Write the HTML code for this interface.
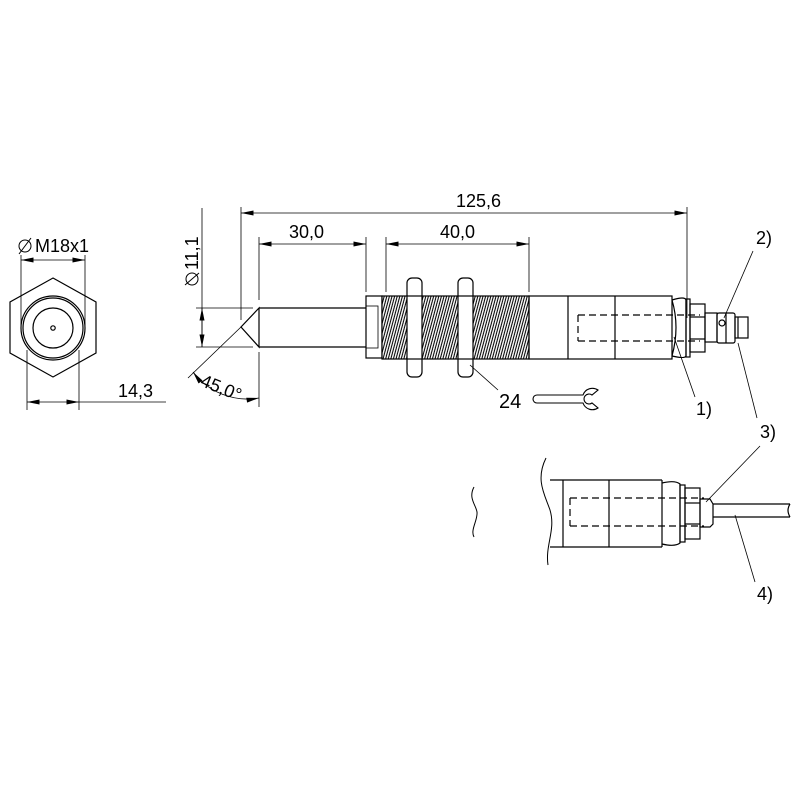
<!DOCTYPE html>
<html><head><style>html,body{margin:0;padding:0;background:#fff}svg{display:block}text{font-family:"Liberation Sans",sans-serif;fill:#000}</style></head>
<body>
<svg width="800" height="800" viewBox="0 0 800 800" xmlns="http://www.w3.org/2000/svg">
<defs>
<pattern id="th" width="2.6" height="6" patternUnits="userSpaceOnUse" patternTransform="skewX(-15)">
<rect width="2.6" height="6" fill="#fff"/><line x1="0.8" y1="0" x2="0.8" y2="6" stroke="#000" stroke-width="1.1"/>
</pattern>
<marker id="a" viewBox="0 0 10 4" refX="10" refY="2" markerWidth="14" markerHeight="5" markerUnits="userSpaceOnUse" orient="auto-start-reverse"><path d="M0,0L10,2L0,4z" fill="#000"/></marker>
</defs>
<g fill="none" stroke="#000" stroke-width="1.2">
<polygon points="53,278 96,302 96,353 53,377 10,353 10,302"/>
<circle cx="53" cy="328" r="32"/><circle cx="53" cy="328" r="30"/><circle cx="53" cy="328" r="20"/><circle cx="53" cy="328" r="2.2"/>
<line x1="21" y1="255" x2="21" y2="330" stroke-width="0.8"/><line x1="85" y1="255" x2="85" y2="330" stroke-width="0.8"/>
<line x1="21" y1="260" x2="85" y2="260" stroke-width="0.8" marker-start="url(#a)" marker-end="url(#a)"/>
<line x1="27" y1="350" x2="27" y2="410" stroke-width="0.8"/><line x1="79" y1="350" x2="79" y2="410" stroke-width="0.8"/>
<line x1="27" y1="402" x2="79" y2="402" stroke-width="0.8" marker-start="url(#a)" marker-end="url(#a)"/>
<line x1="79" y1="402" x2="166" y2="402" stroke-width="0.8"/>
<line x1="241" y1="207" x2="241" y2="320" stroke-width="0.8"/>
<line x1="687" y1="207" x2="687" y2="318" stroke-width="0.8"/>
<line x1="241" y1="213" x2="687" y2="213" stroke-width="0.8" marker-start="url(#a)" marker-end="url(#a)"/>
<line x1="259" y1="237" x2="259" y2="300" stroke-width="0.8"/><line x1="259" y1="352" x2="259" y2="407" stroke-width="0.8"/>
<line x1="366" y1="237" x2="366" y2="292" stroke-width="0.8"/>
<line x1="259" y1="244" x2="366" y2="244" stroke-width="0.8" marker-start="url(#a)" marker-end="url(#a)"/>
<line x1="386" y1="237" x2="386" y2="292" stroke-width="0.8"/><line x1="529" y1="237" x2="529" y2="292" stroke-width="0.8"/>
<line x1="386" y1="244" x2="529" y2="244" stroke-width="0.8" marker-start="url(#a)" marker-end="url(#a)"/>
<line x1="202" y1="208" x2="202" y2="347" stroke-width="0.8"/>
<line x1="196" y1="308" x2="253" y2="308" stroke-width="0.8"/><line x1="196" y1="347" x2="253" y2="347" stroke-width="0.8"/>
<line x1="202" y1="308" x2="202" y2="347" stroke-width="0.8" marker-start="url(#a)" marker-end="url(#a)"/>
<line x1="241" y1="327" x2="188" y2="378" stroke-width="0.8"/>
<path d="M193,372 A68,68 0 0 0 259,398" stroke-width="0.8" marker-start="url(#a)" marker-end="url(#a)"/>
<path d="M259,308 L241,327 L259,347 Z M259,308 L366,308 M259,347 L366,347"/>
<rect x="366" y="296" width="16" height="62"/><rect x="366" y="306" width="12" height="42" stroke-width="0.8"/>
<rect x="382" y="296" width="147" height="63" fill="url(#th)"/>
<rect x="529" y="296" width="143" height="63"/>
<line x1="568" y1="296" x2="568" y2="359"/><line x1="615" y1="296" x2="615" y2="359"/>
<path d="M578,315 L700,315 M578,341 L700,341 M578,315 L578,341" stroke-dasharray="7,4"/>
<rect x="407" y="278" width="15" height="99" rx="5" fill="#fff"/>
<line x1="407" y1="296" x2="422" y2="296"/><line x1="407" y1="359" x2="422" y2="359"/>
<rect x="458" y="278" width="15" height="99" rx="5" fill="#fff"/>
<line x1="458" y1="296" x2="473" y2="296"/><line x1="458" y1="359" x2="473" y2="359"/>
<path d="M672,300 Q685,296 686,300 L686,356 Q685,359 672,356"/>
<path d="M672,300 Q680,327 672,356"/>
<rect x="686" y="299" width="4" height="58"/>
<rect x="690" y="304" width="15" height="48"/>
<line x1="690" y1="317" x2="705" y2="317"/><line x1="690" y1="339" x2="705" y2="339"/>
<rect x="705" y="313" width="12" height="29"/>
<circle cx="722" cy="323" r="3"/>
<rect x="717" y="313" width="18" height="30" rx="2"/>
<line x1="726" y1="313" x2="726" y2="343"/>
<rect x="735" y="317" width="13" height="21"/>
<line x1="738" y1="317" x2="738" y2="338"/>
<line x1="470" y1="365" x2="498" y2="390" stroke-width="0.8"/>
<line x1="674" y1="337" x2="695" y2="397" stroke-width="0.8"/>
<line x1="753" y1="251" x2="724" y2="318" stroke-width="0.8"/>
<line x1="738" y1="343" x2="757" y2="418" stroke-width="0.8"/>
<path d="M583,395 L537,395 A4,4 0 0 0 537,403 L583,403 A10,10 0 0 0 598,408 L592,403 A5,5 0 1 1 592,395 L598,390 A10,10 0 0 0 583,395 Z" stroke-width="1.1"/>
<path d="M546,458 C535,480 545,495 550,510 C556,530 545,545 548,565" stroke-width="1"/>
<path d="M474,487 C468,498 476,505 477,512 C478,520 470,530 474,537" stroke-width="1"/>
<path d="M550,480 L662,480 M550,547 L662,547 M662,480 L662,547"/>
<line x1="563" y1="480" x2="563" y2="547"/><line x1="609" y1="480" x2="609" y2="547"/>
<path d="M570,498 L704,498 M570,526 L704,526 M570,498 L570,526" stroke-dasharray="7,4"/>
<path d="M662,483 Q675,480 680,484 L680,543 Q675,547 662,544"/>
<rect x="680" y="485" width="5" height="57"/>
<rect x="685" y="488" width="15" height="51"/>
<line x1="685" y1="503" x2="700" y2="503"/><line x1="685" y1="524" x2="700" y2="524"/>
<path d="M700,499 L710,499 L713,504 L713,524 L710,527 L700,527 Z"/>
<path d="M713,504 L790,504 M713,517 L790,517 M790,504 Q786,510 790,517"/>
<line x1="760" y1="446" x2="706" y2="502" stroke-width="0.8"/>
<line x1="735" y1="515" x2="755" y2="582" stroke-width="0.8"/>
</g>
<g font-size="18">
<text x="35" y="252">M18x1</text>
<circle cx="25" cy="246" r="6" fill="none" stroke="#000" stroke-width="1"/><line x1="19" y1="254" x2="31" y2="238" stroke="#000" stroke-width="1"/>
<text x="118" y="397">14,3</text>
<text x="456" y="207">125,6</text>
<text x="289" y="238">30,0</text>
<text x="440" y="238">40,0</text>
<text transform="translate(198,270) rotate(-90)">11,1</text>
<circle cx="192" cy="279" r="6" fill="none" stroke="#000" stroke-width="1"/><line x1="185" y1="285" x2="199" y2="273" stroke="#000" stroke-width="1"/>
<text x="200" y="394" transform="rotate(22 222 388)">45,0°</text>
<text x="499" y="408" font-size="20">24</text>
<text x="696" y="415">1)</text>
<text x="756" y="244">2)</text>
<text x="760" y="438">3)</text>
<text x="757" y="600">4)</text>
</g>
</svg>
</body></html>
